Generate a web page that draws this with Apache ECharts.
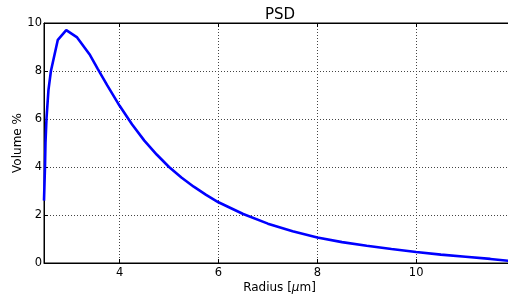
<!DOCTYPE html>
<html>
<head>
<meta charset="utf-8">
<script src="https://cdn.jsdelivr.net/npm/echarts@6/dist/echarts.min.js"></script>
<style>
html,body{margin:0;padding:0;background:#fff;}
#chart{width:508px;height:298px;}
</style>
</head>
<body>
<div id="chart"></div>
<script>
const radius = [2.47, 2.48, 2.49, 2.50, 2.52, 2.56, 2.61, 2.75, 2.92, 3.14, 3.39, 3.56, 3.75, 4.0, 4.25, 4.5, 4.75, 5.0, 5.25, 5.5, 5.75, 6.0, 6.5, 7.0, 7.5, 8.0, 8.5, 9.0, 9.5, 10.0, 10.5, 11.0, 11.5, 12.0];
const volume = [2.6, 3.3, 4.0, 5.0, 6.0, 7.2, 8.0, 9.3, 9.7, 9.4, 8.7, 8.08, 7.4, 6.55, 5.78, 5.10, 4.52, 4.0, 3.56, 3.18, 2.84, 2.53, 2.04, 1.64, 1.32, 1.06, 0.87, 0.72, 0.58, 0.46, 0.35, 0.26, 0.17, 0.06];
const xMin = 2.47, xMax = 12;
const yTicks = [0, 2, 4, 6, 8, 10];
const titleText = 'PSD';
const xName = 'Radius [{mu|μ}m]';
const yName = 'Volume %';

const FONT = 'DejaVu Sans';
const chart = echarts.init(document.getElementById('chart'), null, {renderer: 'canvas'});
const dotted = {type: [1, 2], color: '#444', width: 1};
chart.setOption({
  animation: false,
  backgroundColor: '#fff',
  textStyle: {fontFamily: FONT},
  title: {
    text: titleText, left: 280, top: 8, padding: 0, textAlign: 'center',
    textStyle: {fontFamily: FONT, fontSize: 15, fontWeight: 'normal', color: '#000'}
  },
  grid: {left: 44, right: -7, top: 23, bottom: 35, show: true, borderColor: '#000', borderWidth: 1,
    containLabel: false, outerBoundsMode: 'none'},
  xAxis: [{
    type: 'value', min: xMin, max: xMax, splitNumber: 5, position: 'bottom',
    name: xName, nameLocation: 'middle', nameGap: 19, nameMoveOverlap: false,
    nameTextStyle: {fontFamily: FONT, fontSize: 12, color: '#000',
      rich: {mu: {fontFamily: FONT, fontSize: 12, fontStyle: 'italic', color: '#000'}}},
    axisLine: {show: true, lineStyle: {color: '#000', width: 1}},
    axisTick: {show: true, inside: true, length: 4, lineStyle: {color: '#000'}},
    axisLabel: {color: '#000', fontFamily: FONT, fontSize: 11.5, margin: 4,
      showMinLabel: false, showMaxLabel: false,
      formatter: v => (Math.abs(v - Math.round(v)) < 1e-9 ? String(Math.round(v)) : '')},
    splitLine: {show: true, lineStyle: dotted}
  }, {
    type: 'value', min: xMin, max: xMax, splitNumber: 5, position: 'top',
    axisLine: {show: true, lineStyle: {color: '#000', width: 1}},
    axisTick: {show: true, inside: true, length: 4, lineStyle: {color: '#000'}},
    axisLabel: {show: false}, splitLine: {show: false}
  }],
  yAxis: [{
    type: 'value', min: yTicks[0], max: yTicks[yTicks.length - 1], interval: yTicks[1] - yTicks[0],
    name: yName, nameLocation: 'middle', nameGap: 20, nameRotate: 90, nameMoveOverlap: false,
    nameTextStyle: {fontFamily: FONT, fontSize: 12, color: '#000'},
    axisLine: {show: true, lineStyle: {color: '#000', width: 1}},
    axisTick: {show: true, inside: true, length: 4, lineStyle: {color: '#000'}},
    axisLabel: {color: '#000', fontFamily: FONT, fontSize: 11.5, margin: 2},
    splitLine: {show: true, lineStyle: dotted}
  }],
  series: [{
    type: 'line', xAxisIndex: 0, yAxisIndex: 0,
    data: radius.map((r, i) => [r, volume[i]]),
    showSymbol: false, smooth: false, clip: true,
    lineStyle: {color: '#0000ff', width: 2.6}
  }]
});
</script>
</body>
</html>
